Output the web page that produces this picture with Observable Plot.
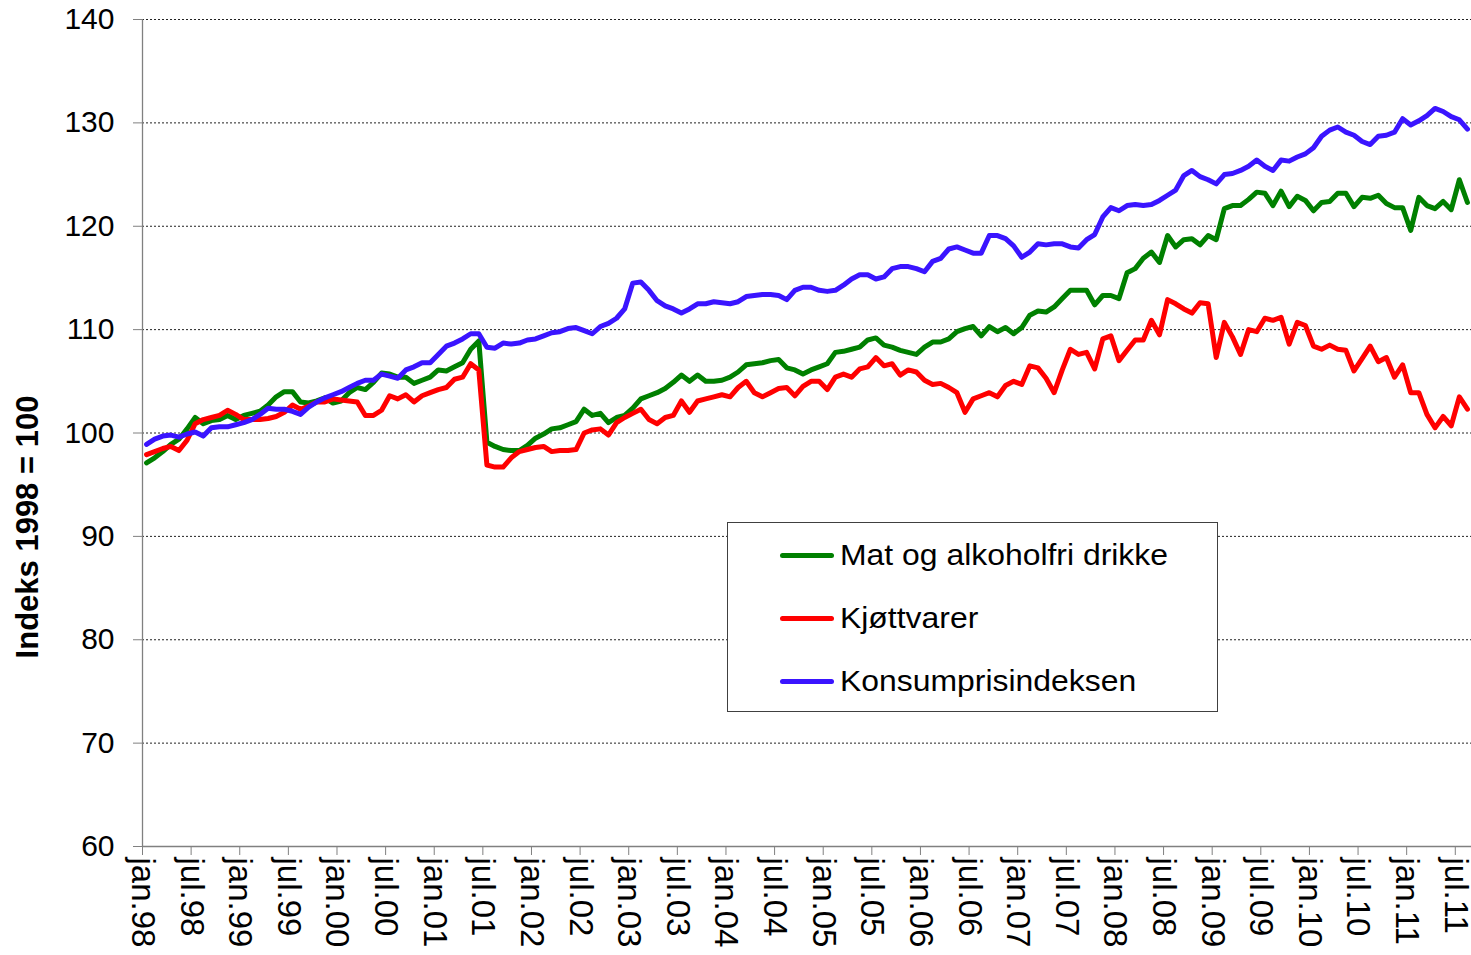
<!DOCTYPE html>
<html>
<head>
<meta charset="utf-8">
<script src="https://cdn.jsdelivr.net/npm/d3@7"></script>
<script src="https://cdn.jsdelivr.net/npm/@observablehq/plot@0.6"></script>
<style>
  html, body { margin: 0; padding: 0; background: #fff; }
  #wrap { position: relative; width: 1471px; height: 955px; font-family: "Liberation Sans", Arial, sans-serif; overflow: hidden; }
  #ytitle { position: absolute; left: 28px; top: 527px; transform: translate(-50%, -50%) rotate(-90deg); font-weight: bold; font-size: 31px; white-space: nowrap; color: #000; }
  #legend { position: absolute; left: 727px; top: 522px; width: 489px; height: 188px; border: 1px solid #404040; background: #fff; }
  .item { position: absolute; left: 52px; height: 40px; display: flex; align-items: center; font-size: 29px; color: #000; white-space: nowrap; }
  .swatch { width: 54px; height: 5px; border-radius: 3px; margin-right: 6px; }
  .label { display: inline-block; transform: scaleX(1.1); transform-origin: left center; }
</style>
</head>
<body>
<div id="wrap">
  <div id="chart"></div>
  <div id="ytitle">Indeks 1998 = 100</div>
  <div id="legend"></div>
</div>
<script>
// Series names and colours
const seriesNames = ["Mat og alkoholfri drikke", "Kjøttvarer", "Konsumprisindeksen"];
const seriesColors = ["#008000", "#ff0000", "#3a14ff"];

// Monthly values, jan.98 – aug.11 (1998 = 100)
const matValues = [
  97.1, 97.6, 98.2, 98.9, 99.4, 100.4, 101.5, 100.9, 101.2, 101.3, 101.7, 101.3,
  101.7, 101.9, 102.1, 102.7, 103.5, 104.0, 104.0, 103.0, 102.9, 103.1, 103.4, 102.9,
  103.1, 103.9, 104.4, 104.2, 104.9, 105.8, 105.7, 105.4, 105.4, 104.8, 105.1, 105.4,
  106.1, 106.0, 106.4, 106.8, 108.1, 108.9, 99.1, 98.7, 98.4, 98.3, 98.3, 98.8,
  99.5, 99.9, 100.4, 100.5, 100.8, 101.1, 102.3, 101.7, 101.9, 101.0, 101.5, 101.7,
  102.4, 103.3, 103.6, 103.9, 104.3, 104.9, 105.6, 105.0, 105.6, 105.0, 105.0, 105.1,
  105.4, 105.9, 106.6, 106.7, 106.8, 107.0, 107.1, 106.3, 106.1, 105.7, 106.1, 106.4,
  106.7, 107.8, 107.9, 108.1, 108.3, 109.0, 109.2, 108.5, 108.3, 108.0, 107.8, 107.6,
  108.3, 108.8, 108.8, 109.1, 109.8, 110.1, 110.3, 109.4, 110.3, 109.8, 110.2, 109.6,
  110.2, 111.4, 111.8, 111.7, 112.2, 113.0, 113.8, 113.8, 113.8, 112.4, 113.3, 113.3,
  113.0, 115.5, 115.9, 116.9, 117.5, 116.5, 119.1, 118.0, 118.7, 118.8, 118.2, 119.1,
  118.7, 121.7, 122.0, 122.0, 122.6, 123.3, 123.2, 122.0, 123.4, 121.9, 122.9, 122.5,
  121.5, 122.3, 122.4, 123.2, 123.2, 121.9, 122.8, 122.7, 123.0, 122.2, 121.8, 121.8,
  119.6, 122.8, 122.0, 121.7, 122.4, 121.6, 124.5, 122.3
];
const kjottValues = [
  97.9, 98.2, 98.5, 98.7, 98.3, 99.3, 100.9, 101.3, 101.5, 101.7, 102.2, 101.8,
  101.3, 101.3, 101.3, 101.4, 101.6, 102.0, 102.7, 102.3, 102.6, 103.0, 103.0, 103.3,
  103.2, 103.1, 103.0, 101.7, 101.7, 102.2, 103.6, 103.3, 103.7, 103.0, 103.6, 103.9,
  104.2, 104.4, 105.2, 105.4, 106.7, 106.1, 96.9, 96.7, 96.7, 97.6, 98.2, 98.4,
  98.6, 98.7, 98.2, 98.3, 98.3, 98.4, 100.0, 100.3, 100.4, 99.8, 101.0, 101.5,
  101.9, 102.3, 101.3, 100.9, 101.5, 101.7, 103.1, 102.0, 103.1, 103.3, 103.5, 103.7,
  103.5, 104.4, 105.0, 103.9, 103.5, 103.9, 104.3, 104.4, 103.6, 104.5, 105.0, 105.0,
  104.2, 105.4, 105.7, 105.4, 106.2, 106.4, 107.3, 106.5, 106.7, 105.6, 106.1, 105.9,
  105.1, 104.7, 104.8, 104.4, 103.9, 102.0, 103.3, 103.6, 103.9, 103.5, 104.6, 105.0,
  104.7, 106.5, 106.3, 105.3, 103.9, 106.1, 108.1, 107.6, 107.8, 106.2, 109.1, 109.4,
  107.0, 108.0, 109.0, 109.0, 110.9, 109.5, 112.9, 112.5, 112.0, 111.6, 112.6, 112.5,
  107.3, 110.7, 109.3, 107.6, 110.0, 109.8, 111.1, 110.9, 111.2, 108.6, 110.7, 110.4,
  108.4, 108.1, 108.5, 108.1, 108.0, 106.0, 107.2, 108.4, 106.9, 107.3, 105.4, 106.6,
  103.9, 103.9, 101.8, 100.5, 101.6, 100.7, 103.5, 102.3
];
const kpiValues = [
  98.9, 99.4, 99.7, 99.8, 99.6, 99.9, 100.1, 99.7, 100.5, 100.6, 100.6, 100.8,
  101.0, 101.3, 101.8, 102.4, 102.3, 102.3, 102.1, 101.8, 102.5, 103.0, 103.4, 103.7,
  104.0, 104.4, 104.8, 105.1, 105.1, 105.7, 105.5, 105.3, 106.1, 106.4, 106.8, 106.8,
  107.6, 108.4, 108.7, 109.1, 109.6, 109.6, 108.3, 108.2, 108.7, 108.6, 108.7, 109.0,
  109.1, 109.4, 109.7, 109.8, 110.1, 110.2, 109.9, 109.6, 110.3, 110.6, 111.1, 112.0,
  114.5, 114.6, 113.8, 112.8, 112.3, 112.0, 111.6, 112.0, 112.5, 112.5, 112.7, 112.6,
  112.5, 112.7, 113.2, 113.3, 113.4, 113.4, 113.3, 112.9, 113.8, 114.1, 114.1, 113.8,
  113.7, 113.8, 114.3, 114.9, 115.3, 115.3, 114.9, 115.1, 115.9, 116.1, 116.1, 115.9,
  115.6, 116.6, 116.9, 117.8, 118.0, 117.7, 117.4, 117.4, 119.1, 119.1, 118.8, 118.1,
  117.0, 117.5, 118.3, 118.2, 118.3, 118.3, 118.0, 117.9, 118.7, 119.2, 120.9, 121.8,
  121.5, 122.0, 122.1, 122.0, 122.1, 122.5, 123.0, 123.5, 124.9, 125.4, 124.8, 124.5,
  124.1, 125.0, 125.1, 125.4, 125.8, 126.4, 125.8, 125.4, 126.4, 126.3, 126.7, 127.0,
  127.6, 128.7, 129.3, 129.6, 129.1, 128.8, 128.2, 127.9, 128.7, 128.8, 129.1, 130.4,
  129.8, 130.2, 130.7, 131.4, 131.1, 130.6, 130.3, 129.4
];

// Axis ticks
const xTickLabels = [
  "jan.98", "jul.98", "jan.99", "jul.99", "jan.00", "jul.00", "jan.01", "jul.01",
  "jan.02", "jul.02", "jan.03", "jul.03", "jan.04", "jul.04", "jan.05", "jul.05",
  "jan.06", "jul.06", "jan.07", "jul.07", "jan.08", "jul.08", "jan.09", "jul.09",
  "jan.10", "jul.10", "jan.11", "jul.11"
];
const monthsOnAxis = 164; // categories jan.98 – aug.11
const yTicks = [60, 70, 80, 90, 100, 110, 120, 130, 140];

const allSeries = [matValues, kjottValues, kpiValues];
const rows = [];
allSeries.forEach((vals, s) => {
  vals.forEach((v, i) => rows.push({ month: i + 0.5, value: v, series: seriesNames[s] }));
});
const xTickValues = xTickLabels.map((_, i) => i * 6);

const chart = Plot.plot({
  width: 1471,
  height: 955,
  marginLeft: 142,
  marginRight: 0,
  marginTop: 19,
  marginBottom: 109,
  style: { fontFamily: "'Liberation Sans', Arial, sans-serif", background: "#fff", overflow: "visible" },
  x: { domain: [0, monthsOnAxis], axis: null },
  y: { domain: [60, 140], axis: null },
  color: { domain: seriesNames, range: seriesColors },
  marks: [
    Plot.ruleY(yTicks.filter(t => t > 60), { stroke: "#222", strokeDasharray: "2,2", strokeWidth: 1 }),
    Plot.ruleX([0], { stroke: "#808080", strokeWidth: 1.3 }),
    Plot.ruleY([60], { stroke: "#808080", strokeWidth: 1.3 }),
    Plot.axisY({
      ticks: yTicks, tickSize: 9, tickPadding: 19, stroke: "#808080", fill: "#000",
      fontSize: 30, label: null, tickFormat: d => String(d)
    }),
    Plot.axisX({
      ticks: xTickValues, tickSize: 9, tickPadding: 2, tickRotate: 90,
      stroke: "#808080", fill: "#000", fontSize: 33, label: null,
      tickFormat: d => xTickLabels[Math.round(d / 6)]
    }),
    Plot.line(rows, {
      x: "month", y: "value", z: "series", stroke: "series",
      strokeWidth: 5, strokeLinejoin: "round", strokeLinecap: "round"
    })
  ]
});
document.getElementById("chart").appendChild(chart);

// Legend (inside plot area, as in the original)
const legend = document.getElementById("legend");
const centers = [32, 95, 158];
seriesNames.forEach((name, i) => {
  const item = document.createElement("div");
  item.className = "item";
  item.style.top = (centers[i] - 20) + "px";
  const sw = document.createElement("div");
  sw.className = "swatch";
  sw.style.background = seriesColors[i];
  const label = document.createElement("span");
  label.className = "label";
  label.textContent = name;
  item.appendChild(sw);
  item.appendChild(label);
  legend.appendChild(item);
});
</script>
</body>
</html>
